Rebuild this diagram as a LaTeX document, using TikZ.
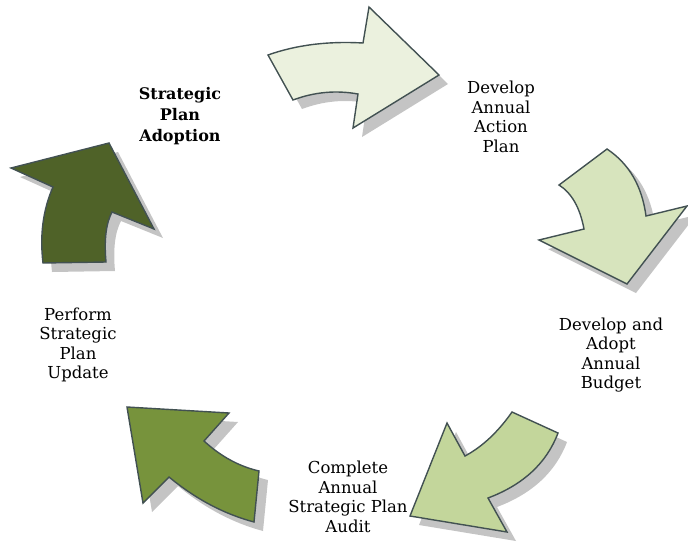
\documentclass[tikz,border=0pt]{standalone}
\usepackage{fontspec}
\usetikzlibrary{calc}
\setmainfont{DejaVu Serif}
\definecolor{edge}{HTML}{425152}
\definecolor{cA}{HTML}{EBF1DE}
\definecolor{cB}{HTML}{D7E4BD}
\definecolor{cC}{HTML}{C3D69B}
\definecolor{cD}{HTML}{77933C}
\definecolor{cE}{HTML}{4F6228}
\definecolor{shade}{HTML}{C4C4C4}
\tikzset{
  arrowbody/.style={draw=edge, line width=1.4pt, line join=miter},
  shadowbody/.style={fill=shade, draw=none},
  lbl/.style={align=center, font=\fontsize{16.5}{19.5}\selectfont, inner sep=0pt},
}
% quadratic segment helper: from #1 with control #2 to #3
\def\qseg#1#2#3{.. controls ($#1!0.6667!#2$) and ($#3!0.6667!#2$) .. #3}
\begin{document}
\begin{tikzpicture}[x=1pt,y=-1pt]
\useasboundingbox (0,0) rectangle (688,547);
\def\arrA{(268,55) \qseg{(268,55)}{(310,40)}{(363,43)} -- (369,7) -- (439,75) -- (353,128) -- (358,94) \qseg{(358,94)}{(325,88)}{(293,100)} -- cycle}
\def\arrB{(559,185) -- (607,149) \qseg{(607,149)}{(640,171)}{(646,216)} -- (687,206) -- (627,284) -- (539,240) -- (584,229) \qseg{(584,229)}{(578,197)}{(559,185)} -- cycle}
\def\arrC{(512,412) -- (558,433) \qseg{(558,433)}{(541,478)}{(488,498)} -- (507,532) -- (410,516) -- (447,423) -- (465,456) \qseg{(465,456)}{(491,442)}{(512,412)} -- cycle}
\def\arrD{(127,407) -- (229,413) -- (204,441) \qseg{(204,441)}{(229,464)}{(259,471)} -- (254,522) \qseg{(254,522)}{(209,510)}{(169,477)} -- (143,503) -- cycle}
\def\arrE{(11,168) -- (109,143) -- (154,229) -- (112,212) \qseg{(112,212)}{(103,229)}{(106,262)} -- (43,263) \qseg{(43,263)}{(38,221)}{(53,187)} -- cycle}
% shadows
\begin{scope}[shift={(9,9)}]
\fill[shadowbody] \arrA;
\fill[shadowbody] \arrB;
\fill[shadowbody] \arrC;
\fill[shadowbody] \arrD;
\fill[shadowbody] \arrE;
\end{scope}
% arrows
\path[arrowbody, fill=cA] \arrA;
\path[arrowbody, fill=cB] \arrB;
\path[arrowbody, fill=cC] \arrC;
\path[arrowbody, fill=cD] \arrD;
\path[arrowbody, fill=cE] \arrE;
% labels
\node[lbl, font=\fontsize{16}{21}\selectfont\bfseries] (adopt) at (180,116) {Strategic\\Plan\\Adoption};
\node[lbl] (action) at (501,117) {Develop\\Annual\\Action\\Plan};
\node[lbl] (budget) at (611,355) {Develop and\\Adopt\\Annual\\Budget};
\node[lbl] (audit) at (348,497) {Complete\\Annual\\Strategic Plan\\Audit};
\node[lbl] (update) at (78,345) {Perform\\Strategic\\Plan\\Update};
\end{tikzpicture}
\end{document}
